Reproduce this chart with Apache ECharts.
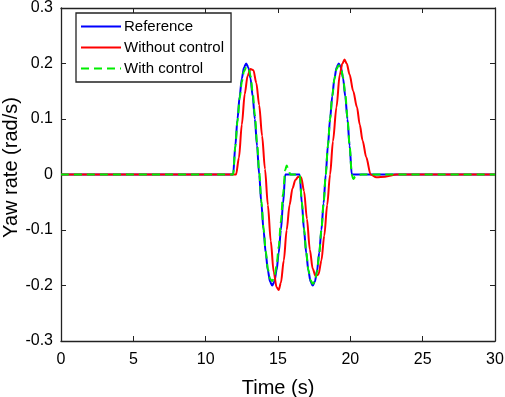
<!DOCTYPE html>
<html>
<head>
<meta charset="utf-8">
<script src="https://cdn.jsdelivr.net/npm/echarts@6/dist/echarts.min.js"></script>
<style>
  html, body { margin: 0; padding: 0; background: #fff; }
  #chart { width: 505px; height: 397px; }
</style>
</head>
<body>
<div id="chart"></div>
<script>
// values
const refTime = [0, 11.9, 12.05, 12.2, 12.35, 12.5, 12.65, 12.8, 12.95, 13.1, 13.25, 13.4, 13.55, 13.7,
  13.85, 14.0, 14.15, 14.3, 14.45, 14.6, 14.75, 14.9, 15.05, 15.2, 15.35, 15.5,
  16.5, 16.65, 16.8, 16.95, 17.1, 17.25, 17.4, 17.55, 17.7, 17.85, 18.0, 18.15, 18.3,
  18.45, 18.6, 18.75, 18.9, 19.05, 19.2, 19.35, 19.5, 19.65, 19.8, 19.95, 20.1, 30]
const refYaw = [0, 0, 0.052, 0.1, 0.141, 0.173, 0.193, 0.2, 0.193, 0.173, 0.141, 0.1, 0.052, 0,
  -0.052, -0.1, -0.141, -0.173, -0.193, -0.2, -0.193, -0.173, -0.141, -0.1, -0.052, 0,
  0, -0.052, -0.1, -0.141, -0.173, -0.193, -0.2, -0.193, -0.173, -0.141, -0.1, -0.052, 0,
  0.052, 0.1, 0.141, 0.173, 0.193, 0.2, 0.193, 0.173, 0.141, 0.1, 0.052, 0, 0]

const noCtrlTime = [0, 12.1, 12.3, 12.5, 12.7, 12.9, 13.1, 13.3, 13.5, 13.7, 13.9, 14.1, 14.3, 14.5,
  14.7, 14.9, 15.05, 15.2, 15.4, 15.6, 15.8, 16.0, 16.2, 16.4, 16.6, 16.8, 17.0, 17.2, 17.4,
  17.6, 17.8, 18.0, 18.2, 18.4, 18.6, 18.8, 19.04, 19.27, 19.45, 19.6, 19.75, 19.95, 20.2,
  20.46, 20.65, 20.85, 21.1, 21.4, 21.8, 22.4, 23.2, 30]
const noCtrlYaw = [0, 0, 0.03, 0.09, 0.145, 0.178, 0.19, 0.188, 0.165, 0.125, 0.07, 0.01, -0.055, -0.12,
  -0.175, -0.203, -0.208, -0.195, -0.155, -0.1, -0.055, -0.025, -0.01, -0.004, -0.005, -0.03, -0.08, -0.135, -0.17,
  -0.183, -0.18, -0.155, -0.11, -0.055, 0.0, 0.06, 0.121, 0.18, 0.2, 0.207, 0.2, 0.18, 0.15,
  0.121, 0.09, 0.061, 0.031, 0.0, -0.005, -0.004, 0, 0]

const ctrlTime = [0, 11.9, 12.05, 12.2, 12.35, 12.5, 12.65, 12.8, 12.95, 13.1, 13.25, 13.4, 13.55, 13.7,
  13.85, 14.0, 14.15, 14.3, 14.45, 14.6, 14.75, 14.9, 15.05, 15.2, 15.35, 15.5, 15.6, 15.7, 15.85,
  16.5, 16.65, 16.8, 16.95, 17.1, 17.25, 17.4, 17.55, 17.7, 17.85, 18.0, 18.15, 18.3,
  18.45, 18.6, 18.75, 18.9, 19.05, 19.2, 19.35, 19.5, 19.65, 19.8, 19.95, 20.1, 20.2, 20.35, 20.5, 20.8, 30]
const ctrlYaw = [0, 0, 0.05, 0.097, 0.137, 0.167, 0.186, 0.193, 0.194, 0.178, 0.148, 0.107, 0.058, 0.005,
  -0.048, -0.097, -0.138, -0.17, -0.188, -0.192, -0.185, -0.165, -0.13, -0.085, -0.035, 0.008, 0.016, 0.01, 0,
  0, -0.05, -0.098, -0.14, -0.172, -0.19, -0.197, -0.193, -0.175, -0.143, -0.1, -0.052, 0,
  0.052, 0.1, 0.141, 0.172, 0.19, 0.197, 0.193, 0.175, 0.145, 0.103, 0.052, 0, -0.008, -0.004, -0.001, 0, 0]

const seriesNames = ['Reference', 'Without control', 'With control']

const zip = (xs, ys) => xs.map((x, i) => [x, ys[i]])

const chart = echarts.init(document.getElementById('chart'))

const axisColor = '#222'
const font = 'Liberation Sans, Arial, sans-serif'

const baseAxis = {
  axisLine: { show: true, onZero: false, lineStyle: { color: axisColor, width: 1.3 } },
  axisTick: { show: true, inside: true, length: 5, lineStyle: { color: axisColor, width: 1 } },
  splitLine: { show: false }
}

chart.setOption({
  animation: false,
  backgroundColor: '#fff',
  textStyle: { fontFamily: font },
  grid: { left: 61, right: 10, top: 8, bottom: 56, containLabel: false, outerBoundsMode: 'none' },
  legend: {
    data: seriesNames,
    orient: 'vertical',
    left: 76,
    top: 13,
    padding: [6, 7, 6, 4],
    itemWidth: 40,
    itemHeight: 14,
    itemGap: 6,
    itemStyle: { opacity: 0 },
    borderColor: axisColor,
    borderWidth: 1.3,
    backgroundColor: '#fff',
    textStyle: { fontSize: 15, color: '#000', fontFamily: font, padding: [0, 0, 0, -2] }
  },
  xAxis: [
    {
      ...baseAxis,
      type: 'value',
      min: 0,
      max: 30,
      interval: 5,
      name: 'Time (s)',
      nameLocation: 'middle',
      nameGap: 37,
      nameTextStyle: { fontSize: 20, color: '#000', fontFamily: font },
      axisLabel: { fontSize: 16, color: '#000', margin: 11, fontFamily: font }
    },
    {
      ...baseAxis,
      type: 'value',
      position: 'top',
      min: 0,
      max: 30,
      interval: 5,
      axisLabel: { show: false }
    }
  ],
  yAxis: [
    {
      ...baseAxis,
      type: 'value',
      min: -0.3,
      max: 0.3,
      interval: 0.1,
      name: 'Yaw rate (rad/s)',
      nameLocation: 'middle',
      nameMoveOverlap: false,
      nameGap: 40,
      nameTextStyle: { fontSize: 20, color: '#000', fontFamily: font, padding: [0, 0, 0, 14] },
      axisLabel: {
        fontSize: 16, color: '#000', margin: 8, fontFamily: font,
        formatter: v => String(Math.round(v * 10) / 10)
      }
    },
    {
      ...baseAxis,
      type: 'value',
      position: 'right',
      min: -0.3,
      max: 0.3,
      interval: 0.1,
      axisLabel: { show: false }
    }
  ],
  series: [
    {
      name: seriesNames[0],
      type: 'line',
      data: zip(refTime, refYaw),
      smooth: 0.3,
      smoothMonotone: 'x',
      symbol: 'none',
      color: '#0000ff',
      lineStyle: { color: '#0000ff', width: 2 }
    },
    {
      name: seriesNames[1],
      type: 'line',
      data: zip(noCtrlTime, noCtrlYaw),
      smooth: 0.3,
      smoothMonotone: 'x',
      symbol: 'none',
      color: '#ff0000',
      lineStyle: { color: '#ff0000', width: 2 }
    },
    {
      name: seriesNames[2],
      type: 'line',
      data: zip(ctrlTime, ctrlYaw),
      smooth: 0.3,
      smoothMonotone: 'x',
      symbol: 'none',
      color: '#00ee00',
      lineStyle: { color: '#00ee00', width: 2, type: [8, 5] }
    }
  ]
})
</script>
</body>
</html>
